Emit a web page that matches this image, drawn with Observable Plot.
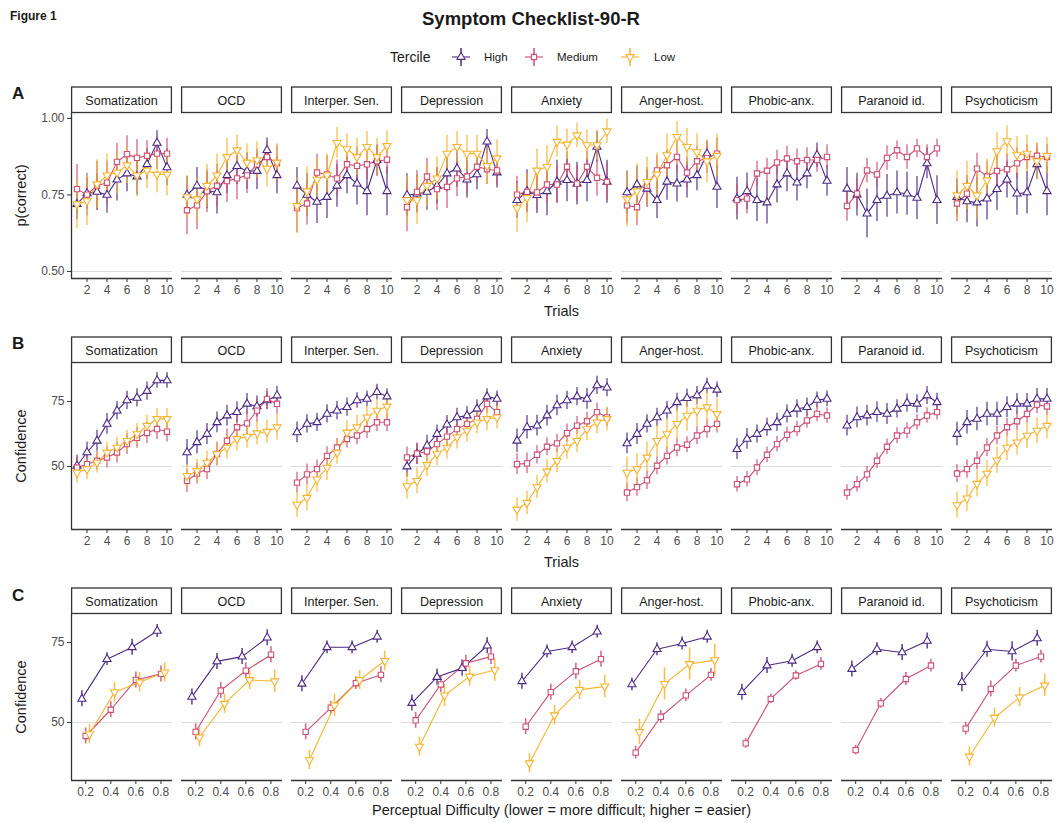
<!DOCTYPE html>
<html>
<head>
<meta charset="utf-8">
<script src="https://cdn.jsdelivr.net/npm/d3@7"></script>
<script src="https://cdn.jsdelivr.net/npm/@observablehq/plot@0.6"></script>
<style>
  html, body { margin: 0; padding: 0; background: white; }
  #wrap { position: relative; width: 1062px; height: 823px; font-family: "Liberation Sans", Arial, sans-serif; color: #1a1a1a; overflow: hidden; }
  .abs { position: absolute; white-space: nowrap; }
  svg.row { position: absolute; left: 0; }
</style>
</head>
<body>
<div id="wrap">
  <div class="abs" style="left:10px;top:9px;font-size:12px;font-weight:bold;">Figure 1</div>
  <div class="abs" style="left:0;width:1062px;top:8px;text-align:center;font-size:18.5px;font-weight:bold;">Symptom Checklist-90-R</div>
  <div id="legend" class="abs" style="left:0;top:46px;width:1062px;height:24px;"></div>
  <div class="abs" style="left:12px;top:84px;font-size:17px;font-weight:bold;">A</div>
  <div class="abs" style="left:12px;top:334px;font-size:17px;font-weight:bold;">B</div>
  <div class="abs" style="left:12px;top:586px;font-size:17px;font-weight:bold;">C</div>
</div>
<script>
// ---------------- DATA ----------------
const facets = ["Somatization", "OCD", "Interper. Sen.", "Depression", "Anxiety", "Anger-host.", "Phobic-anx.", "Paranoid id.", "Psychoticism"];
const terciles = ["High", "Medium", "Low"];
const trials = [1, 2, 3, 4, 5, 6, 7, 8, 9, 10];
const difficulty = [0.2, 0.4, 0.6, 0.8];
const trialTicks = [2, 4, 6, 8, 10];

// Panel A: p(correct) by trial (rows = facets)
const accHigh = [
  [0.72, 0.755, 0.76, 0.75, 0.80, 0.82, 0.81, 0.85, 0.92, 0.84],
  [0.75, 0.78, 0.765, 0.758, 0.814, 0.844, 0.828, 0.828, 0.896, 0.814],
  [0.78, 0.75, 0.727, 0.743, 0.78, 0.814, 0.787, 0.762, 0.864, 0.762],
  [0.749, 0.754, 0.76, 0.78, 0.82, 0.836, 0.80, 0.817, 0.924, 0.823],
  [0.733, 0.762, 0.749, 0.762, 0.793, 0.798, 0.787, 0.798, 0.907, 0.793],
  [0.758, 0.784, 0.77, 0.733, 0.793, 0.787, 0.80, 0.814, 0.885, 0.776],
  [0.738, 0.762, 0.733, 0.725, 0.784, 0.82, 0.79, 0.82, 0.88, 0.796],
  [0.77, 0.751, 0.689, 0.733, 0.747, 0.758, 0.754, 0.74, 0.853, 0.733],
  [0.743, 0.729, 0.725, 0.738, 0.769, 0.80, 0.754, 0.758, 0.85, 0.762]
];
const accMedium = [
  [0.769, 0.751, 0.78, 0.79, 0.858, 0.883, 0.871, 0.878, 0.885, 0.885],
  [0.70, 0.716, 0.762, 0.78, 0.795, 0.804, 0.814, 0.85, 0.874, 0.853],
  [0.707, 0.722, 0.823, 0.817, 0.804, 0.85, 0.845, 0.85, 0.86, 0.865],
  [0.71, 0.76, 0.81, 0.769, 0.776, 0.804, 0.81, 0.842, 0.834, 0.83],
  [0.751, 0.76, 0.758, 0.784, 0.784, 0.842, 0.787, 0.842, 0.806, 0.793],
  [0.716, 0.71, 0.78, 0.83, 0.847, 0.874, 0.823, 0.86, 0.87, 0.885],
  [0.733, 0.738, 0.82, 0.829, 0.856, 0.869, 0.86, 0.864, 0.864, 0.874],
  [0.714, 0.754, 0.83, 0.817, 0.871, 0.896, 0.874, 0.902, 0.874, 0.902],
  [0.722, 0.754, 0.836, 0.81, 0.828, 0.834, 0.853, 0.874, 0.878, 0.874]
];
const accLow = [
  [0.72, 0.73, 0.785, 0.814, 0.823, 0.847, 0.814, 0.83, 0.817, 0.817],
  [0.743, 0.736, 0.78, 0.814, 0.874, 0.896, 0.856, 0.864, 0.836, 0.856],
  [0.714, 0.762, 0.80, 0.814, 0.92, 0.90, 0.874, 0.907, 0.874, 0.91],
  [0.733, 0.733, 0.78, 0.804, 0.885, 0.907, 0.885, 0.885, 0.845, 0.87],
  [0.707, 0.74, 0.83, 0.842, 0.924, 0.915, 0.945, 0.913, 0.913, 0.958],
  [0.736, 0.762, 0.793, 0.817, 0.88, 0.94, 0.907, 0.89, 0.86, 0.878],
  null,
  null,
  [0.749, 0.78, 0.749, 0.798, 0.893, 0.926, 0.88, 0.885, 0.86, 0.878]
];
const accHighErr = [
  [0.05, 0.05, 0.06, 0.06, 0.07, 0.06, 0.06, 0.05, 0.04, 0.06],
  [0.06, 0.06, 0.06, 0.07, 0.06, 0.06, 0.06, 0.06, 0.04, 0.06],
  [0.06, 0.07, 0.07, 0.07, 0.07, 0.06, 0.07, 0.08, 0.05, 0.08],
  [0.07, 0.06, 0.06, 0.06, 0.06, 0.06, 0.06, 0.05, 0.04, 0.05],
  [0.06, 0.07, 0.06, 0.08, 0.07, 0.07, 0.07, 0.07, 0.05, 0.07],
  [0.07, 0.06, 0.06, 0.06, 0.06, 0.06, 0.06, 0.05, 0.04, 0.07],
  [0.07, 0.06, 0.07, 0.07, 0.06, 0.06, 0.06, 0.05, 0.04, 0.05],
  [0.07, 0.07, 0.08, 0.07, 0.07, 0.07, 0.07, 0.07, 0.05, 0.08],
  [0.06, 0.07, 0.08, 0.07, 0.07, 0.06, 0.07, 0.07, 0.05, 0.08]
];
const accMediumErr = [
  [0.08, 0.07, 0.08, 0.07, 0.06, 0.06, 0.06, 0.05, 0.05, 0.05],
  [0.08, 0.08, 0.07, 0.07, 0.07, 0.07, 0.06, 0.05, 0.05, 0.06],
  [0.08, 0.07, 0.06, 0.06, 0.06, 0.05, 0.06, 0.05, 0.05, 0.05],
  [0.08, 0.07, 0.06, 0.07, 0.07, 0.06, 0.06, 0.05, 0.05, 0.05],
  [0.06, 0.06, 0.06, 0.06, 0.06, 0.05, 0.06, 0.05, 0.06, 0.06],
  [0.06, 0.06, 0.06, 0.05, 0.05, 0.05, 0.05, 0.05, 0.05, 0.05],
  [0.05, 0.05, 0.04, 0.04, 0.04, 0.04, 0.04, 0.04, 0.04, 0.04],
  [0.05, 0.05, 0.04, 0.04, 0.04, 0.03, 0.04, 0.03, 0.04, 0.03],
  [0.06, 0.06, 0.05, 0.05, 0.05, 0.05, 0.05, 0.04, 0.04, 0.04]
];
const accLowErr = [
  [0.08, 0.08, 0.08, 0.07, 0.07, 0.06, 0.07, 0.06, 0.06, 0.07],
  [0.07, 0.07, 0.07, 0.07, 0.06, 0.05, 0.06, 0.06, 0.06, 0.06],
  [0.09, 0.08, 0.07, 0.07, 0.05, 0.05, 0.06, 0.05, 0.06, 0.05],
  [0.08, 0.08, 0.07, 0.07, 0.06, 0.05, 0.06, 0.06, 0.06, 0.06],
  [0.08, 0.08, 0.07, 0.07, 0.05, 0.05, 0.04, 0.05, 0.05, 0.04],
  [0.09, 0.09, 0.08, 0.07, 0.07, 0.05, 0.06, 0.06, 0.07, 0.07],
  null,
  null,
  [0.08, 0.08, 0.08, 0.07, 0.06, 0.05, 0.06, 0.06, 0.06, 0.06]
];

// Panel B: confidence by trial
const confHigh = [
  [50.3, 55.4, 59.9, 66.4, 71.5, 75.4, 76.4, 79.0, 83.1, 83.1],
  [55.4, 59.3, 62.5, 67.0, 69.6, 70.9, 74.1, 73.1, 75.4, 77.3],
  [63.1, 66.4, 67.0, 70.2, 71.5, 72.8, 75.4, 76.0, 78.6, 76.9],
  [50.0, 54.8, 58.0, 62.5, 66.1, 68.9, 69.6, 72.2, 76.9, 76.0],
  [59.9, 65.1, 65.7, 69.6, 73.5, 75.4, 76.9, 76.0, 81.2, 80.3],
  [58.9, 62.5, 66.4, 68.9, 71.5, 74.7, 76.3, 77.3, 81.0, 79.5],
  [56.7, 60.6, 62.5, 65.1, 67.0, 70.2, 72.2, 72.8, 75.6, 76.0],
  [65.7, 68.9, 69.6, 70.9, 70.2, 72.2, 74.4, 74.1, 77.3, 74.7],
  [62.5, 67.0, 68.3, 70.2, 70.2, 72.8, 74.1, 74.1, 76.0, 76.0]
];
const confMedium = [
  [49.6, 50.9, 52.2, 53.5, 55.4, 58.6, 61.0, 62.9, 64.4, 63.4],
  [44.5, 47.3, 49.0, 54.8, 59.9, 65.1, 66.6, 71.5, 76.0, 74.1],
  [43.8, 47.0, 49.0, 54.1, 57.3, 60.6, 61.9, 64.4, 67.0, 67.0],
  [53.5, 55.0, 55.8, 58.6, 61.5, 64.4, 66.4, 68.3, 74.1, 70.9],
  [50.9, 51.2, 54.5, 57.6, 58.9, 62.8, 65.7, 67.4, 70.9, 68.9],
  [40.0, 42.1, 44.7, 50.3, 54.1, 57.3, 58.4, 61.9, 64.4, 66.4],
  [43.2, 45.1, 49.6, 54.5, 58.6, 62.2, 64.4, 67.7, 70.2, 69.6],
  [40.0, 43.2, 47.0, 52.2, 57.6, 61.9, 63.8, 67.0, 69.6, 70.9],
  [47.3, 49.0, 52.2, 57.3, 61.9, 65.1, 67.4, 70.2, 73.8, 73.1]
];
const confLow = [
  [47.7, 49.0, 51.5, 55.4, 57.3, 59.9, 62.5, 65.7, 68.3, 68.3],
  [46.4, 48.3, 51.5, 54.8, 57.3, 60.6, 61.5, 62.8, 63.4, 65.1],
  [35.4, 38.0, 45.1, 49.6, 55.4, 63.1, 65.1, 68.9, 71.5, 73.1],
  [42.5, 44.5, 50.6, 54.8, 57.3, 61.2, 63.8, 67.0, 68.3, 68.9],
  [33.5, 36.1, 42.1, 48.1, 52.2, 57.3, 59.9, 64.4, 67.0, 68.3],
  [47.7, 49.0, 53.5, 59.9, 62.5, 66.4, 69.6, 71.5, 72.8, 70.2],
  null,
  null,
  [35.2, 37.8, 43.4, 47.3, 52.4, 57.3, 59.3, 61.9, 63.8, 65.7]
];
const confHighErr = [
  [4, 4, 4, 4, 3.5, 3.5, 3.5, 3.5, 3, 3],
  [5, 4.5, 4, 4, 4, 4, 4, 4, 3.5, 3.5],
  [4, 3.5, 3.5, 3.5, 3.5, 3.5, 3, 3, 3, 3],
  [4, 4, 4, 3.5, 3.5, 3.5, 3.5, 3.5, 3, 3],
  [4.5, 4.5, 4, 4, 4, 3.5, 3.5, 4, 3.5, 3.5],
  [4, 4, 3.5, 3.5, 3.5, 3.5, 3.5, 3.5, 3, 3],
  [4, 4, 3.5, 3.5, 3.5, 3.5, 3.5, 3.5, 3, 3],
  [4, 4, 4, 4, 4, 3.5, 3.5, 3.5, 3.5, 3.5],
  [4.5, 4.5, 4.5, 4.5, 4.5, 4, 4, 4, 4, 4]
];
const confMediumErr = [
  [4, 4, 3.5, 4, 4, 4, 4, 4, 4, 4],
  [4.5, 4, 4, 4.5, 4.5, 4.5, 4.5, 4.5, 4, 4],
  [4, 4, 3.5, 3.5, 3.5, 3.5, 3.5, 3.5, 3.5, 3.5],
  [4, 4, 4, 4, 3.5, 3.5, 3.5, 3.5, 3.5, 3.5],
  [4, 4, 3.5, 3.5, 3.5, 3.5, 3.5, 3.5, 3.5, 3.5],
  [3.5, 3.5, 3.5, 3.5, 3.5, 3.5, 3, 3.5, 3.5, 3.5],
  [3, 3, 3, 3, 3, 3, 3, 3, 3, 3],
  [3, 3, 3, 3, 3, 3, 3, 3, 3, 3],
  [3.5, 3.5, 3.5, 3.5, 3.5, 3.5, 3.5, 3.5, 3.5, 3.5]
];
const confLowErr = [
  [4, 4, 4, 4, 4, 4, 4, 4, 4, 4],
  [4.5, 4.5, 4.5, 4.5, 4.5, 4.5, 4.5, 4.5, 4.5, 5],
  [5, 5, 5, 5, 4.5, 4.5, 4.5, 4.5, 4.5, 4.5],
  [5, 5, 4.5, 4.5, 4.5, 4.5, 4.5, 4.5, 4.5, 4.5],
  [4.5, 4.5, 4.5, 4.5, 4.5, 4.5, 4.5, 4.5, 4.5, 4.5],
  [6, 6, 6, 6, 6, 6, 6, 6, 6, 6],
  null,
  null,
  [5, 5, 5, 5, 5, 5, 5, 5, 5, 5]
];

// Panel C: confidence by perceptual difficulty
const diffHigh = [
  [57.4, 69.8, 73.5, 78.6],
  [58.0, 69.1, 70.6, 76.5],
  [62.1, 73.5, 73.5, 76.8],
  [56.1, 64.2, 67.0, 74.0],
  [62.9, 72.2, 73.5, 78.4],
  [61.9, 72.9, 74.7, 76.8],
  [59.5, 67.8, 69.3, 73.5],
  [66.7, 72.9, 71.9, 75.5],
  [62.6, 72.9, 72.2, 76.3]
];
const diffMedium = [
  [45.8, 54.0, 63.3, 65.2],
  [47.1, 60.0, 66.2, 71.2],
  [47.1, 54.6, 62.3, 64.9],
  [50.7, 61.9, 68.5, 70.6],
  [48.7, 59.5, 66.0, 69.8],
  [40.6, 51.8, 58.5, 64.9],
  [43.5, 57.4, 64.7, 68.3],
  [41.4, 56.0, 63.6, 67.8],
  [48.1, 60.5, 67.8, 70.6]
];
const diffLow = [
  [46.4, 59.5, 62.6, 65.7],
  [45.4, 55.9, 63.3, 62.9],
  [38.3, 55.4, 63.3, 69.3],
  [42.5, 58.5, 64.4, 66.4],
  [37.3, 52.3, 60.2, 61.3],
  [47.1, 62.1, 68.3, 69.5],
  null,
  null,
  [39.4, 51.5, 57.9, 61.6]
];
const diffHighErr = [
  [2.5, 2, 2.5, 2],
  [2.5, 2.5, 2.5, 2.5],
  [2.5, 2, 2, 2],
  [2.5, 2.5, 2.5, 2.5],
  [2.5, 2, 2, 2],
  [2, 2, 2, 2],
  [2.5, 2.5, 2, 2],
  [2.5, 2, 2.5, 2.5],
  [3, 2.5, 3, 2.5]
];
const diffMediumErr = [
  [2.5, 2.5, 2.5, 2.5],
  [2.5, 2.5, 2.5, 2.5],
  [2.5, 2, 2, 2.5],
  [2.5, 2.5, 2.5, 2.5],
  [2.5, 2.5, 2.5, 2.5],
  [2, 2, 2, 2],
  [1.5, 1.5, 1.5, 2],
  [1.5, 1.5, 2, 2],
  [2, 2.5, 2, 2]
];
const diffLowErr = [
  [3, 3, 3, 3],
  [3, 3, 3, 3.5],
  [3, 3.5, 3, 3],
  [3, 3.5, 3, 3.5],
  [3, 3, 3, 3.5],
  [4, 5, 5, 5],
  null,
  null,
  [3, 3, 3, 3.5]
];

// ---------------- STYLE ----------------
const colors = ["#4b2a86", "#cc4f73", "#f6b42f"];
const FONT = "'Liberation Sans', Arial, sans-serif";

function tidy(series, errs, xs, dodge) {
  const out = [];
  terciles.forEach((t, ti) => {
    series[ti].forEach((vals, fi) => {
      if (!vals) return;
      vals.forEach((v, i) => {
        const e = errs[ti][fi][i];
        out.push({facet: facets[fi], tercile: t, x: xs[i] + dodge[ti], y: v, lo: v - e, hi: v + e});
      });
    });
  });
  return out;
}

const dataA = tidy([accHigh, accMedium, accLow], [accHighErr, accMediumErr, accLowErr], trials, [0, 0, 0]);
const dataB = tidy([confHigh, confMedium, confLow], [confHighErr, confMediumErr, confLowErr], trials, [0, 0, 0]);
const dataC = tidy([diffHigh, diffMedium, diffLow], [diffHighErr, diffMediumErr, diffLowErr], difficulty, [-0.03, 0, 0.03]);

function makeRow(cfg) {
  const {data, top, height, marginTop, marginBottom, xDomain, yDomain, xTicks, xFormat, yTicks, yFormat, ref, errOpacity, ylabel, xlabel, xlabelDy} = cfg;
  const plot = Plot.plot({
    width: 1062,
    height,
    marginLeft: 69,
    marginRight: 8,
    marginTop,
    marginBottom,
    style: {background: "transparent", fontFamily: FONT, overflow: "visible"},
    fx: {domain: facets, paddingInner: 0.08, paddingOuter: 0, axis: null, label: null},
    x: {domain: xDomain},
    y: {domain: yDomain},
    color: {domain: terciles, range: colors},
    symbol: {domain: terciles, range: ["triangle", "square", "triangle"]},
    marks: [
      Plot.ruleY([ref], {stroke: "#dcdcdc", strokeWidth: 1.1}),
      Plot.ruleY([yDomain[0]], {stroke: "#333", strokeWidth: 1.3}),
      Plot.ruleX([xDomain[0]], {stroke: "#333", strokeWidth: 1.3, facetAnchor: "left"}),
      Plot.axisX({ticks: xTicks, tickFormat: xFormat, tickSize: 4, tickPadding: 3, label: null, fontSize: 12, fill: "#4d4d4d", stroke: "#333"}),
      Plot.axisY({ticks: yTicks, tickFormat: yFormat, tickSize: 4, tickPadding: 3, label: null, fontSize: 12, fill: "#4d4d4d", stroke: "#333"}),
      Plot.ruleX(data, {fx: "facet", x: "x", y1: "lo", y2: "hi", stroke: "tercile", strokeWidth: 1.6, strokeOpacity: errOpacity}),
      Plot.line(data, {fx: "facet", x: "x", y: "y", z: "tercile", stroke: "tercile", strokeWidth: 1.1}),
      Plot.dot(data, {fx: "facet", x: "x", y: "y", stroke: "tercile", symbol: "tercile", rotate: d => d.tercile === "Low" ? 180 : 0, fill: "white", r: 3.0, strokeWidth: 1.1})
    ]
  });
  plot.classList.add("row");
  plot.style.top = top + "px";
  const svg = d3.select(plot);
  const fx = plot.scale("fx");
  const bw = fx.bandwidth;
  const g = svg.append("g");
  for (const f of facets) {
    const x0 = fx.apply(f);
    g.append("rect").attr("x", x0 + 0.6).attr("y", marginTop - 26).attr("width", bw - 1.2).attr("height", 25.5)
      .attr("fill", "white").attr("stroke", "#333").attr("stroke-width", 1.3);
    g.append("text").attr("x", x0 + bw / 2).attr("y", marginTop - 13).attr("dy", "0.36em")
      .attr("text-anchor", "middle").attr("font-family", FONT).attr("font-size", 12.5).attr("fill", "#1a1a1a").text(f);
  }
  const innerBottom = height - marginBottom;
  svg.append("text").attr("x", (69 + 1054) / 2).attr("y", innerBottom + xlabelDy).attr("dy", "0.36em")
    .attr("text-anchor", "middle").attr("font-family", FONT).attr("font-size", 14.5).attr("fill", "#1a1a1a").text(xlabel);
  svg.append("text").attr("transform", `translate(21,${(marginTop + innerBottom) / 2}) rotate(-90)`).attr("dy", "0.36em")
    .attr("text-anchor", "middle").attr("font-family", FONT).attr("font-size", 14.5).attr("fill", "#1a1a1a").text(ylabel);
  document.getElementById("wrap").appendChild(plot);
}

makeRow({data: dataA, top: 80, height: 240, marginTop: 33, marginBottom: 42, xDomain: [0.45, 10.55], yDomain: [0.477, 1.016],
  xTicks: trialTicks, xFormat: d => d, yTicks: [0.5, 0.75, 1.0], yFormat: ".2f", ref: 0.5, errOpacity: 0.7,
  ylabel: "p(correct)", xlabel: "Trials", xlabelDy: 33});
makeRow({data: dataB, top: 330, height: 241, marginTop: 33, marginBottom: 42, xDomain: [0.45, 10.55], yDomain: [25.8, 89.6],
  xTicks: trialTicks, xFormat: d => d, yTicks: [50, 75], yFormat: d => d, ref: 50, errOpacity: 0.7,
  ylabel: "Confidence", xlabel: "Trials", xlabelDy: 33});
makeRow({data: dataC, top: 580, height: 240, marginTop: 34, marginBottom: 40, xDomain: [0.087, 0.892], yDomain: [31.9, 83.75],
  xTicks: difficulty, xFormat: ".1f", yTicks: [50, 75], yFormat: d => d, ref: 50, errOpacity: 0.85,
  ylabel: "Confidence", xlabel: "Perceptual Difficulty (lower = more difficult; higher = easier)", xlabelDy: 30});

// ---------------- LEGEND ----------------
(function legend() {
  const leg = d3.select("#legend").append("svg").attr("width", 1062).attr("height", 24).style("overflow", "visible");
  const cy = 11;
  leg.append("text").attr("x", 390).attr("y", cy).attr("dy", "0.36em").attr("font-family", FONT).attr("font-size", 14).attr("fill", "#1a1a1a").text("Tercile");
  const items = [{x: 461, tx: 484}, {x: 534, tx: 557}, {x: 630, tx: 654}];
  const shapes = [d3.symbolTriangle, d3.symbolSquare, d3.symbolTriangle];
  terciles.forEach((t, i) => {
    const it = items[i];
    const gg = leg.append("g").attr("stroke", colors[i]).attr("fill", "none").attr("stroke-width", 1.1);
    gg.append("line").attr("x1", it.x - 9).attr("x2", it.x + 9).attr("y1", cy).attr("y2", cy);
    gg.append("line").attr("x1", it.x).attr("x2", it.x).attr("y1", cy - 9).attr("y2", cy + 9).attr("stroke-width", 1.5);
    gg.append("path").attr("d", d3.symbol(shapes[i], Math.PI * 3.0 * 3.0)()).attr("fill", "white")
      .attr("transform", `translate(${it.x},${cy}) rotate(${i === 2 ? 180 : 0})`);
    leg.append("text").attr("x", it.tx).attr("y", cy).attr("dy", "0.36em").attr("font-family", FONT).attr("font-size", 11.5).attr("fill", "#1a1a1a").text(t);
  });
})();
</script>
</body>
</html>
